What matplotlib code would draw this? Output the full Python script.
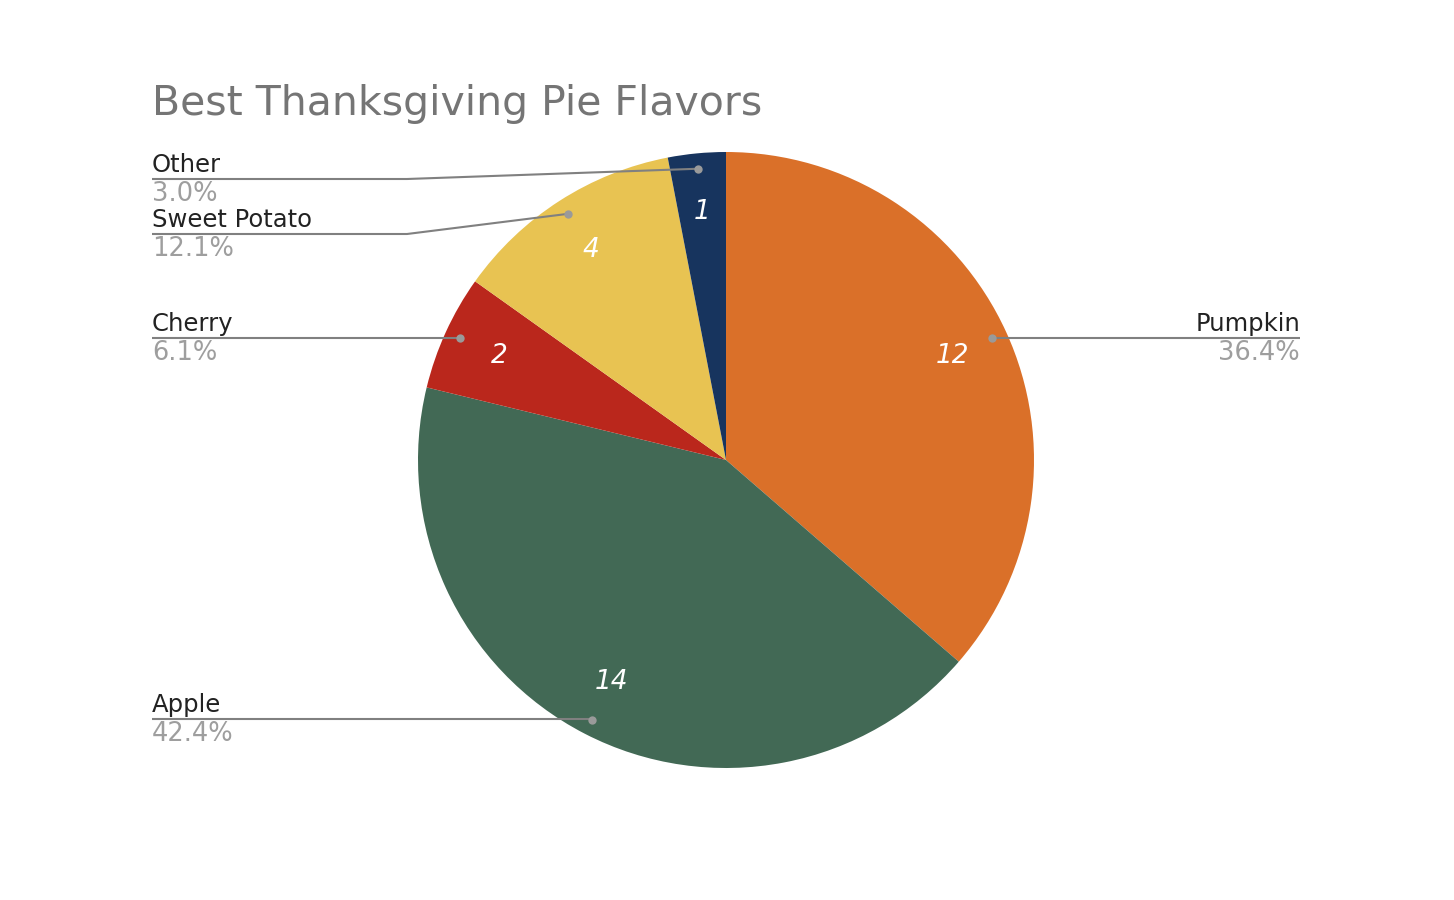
import numpy as np
import matplotlib
matplotlib.use("Agg")
import matplotlib.pyplot as plt

title = "Best Thanksgiving Pie Flavors"
categories = ["Pumpkin", "Apple", "Cherry", "Sweet Potato", "Other"]
values = [12, 14, 2, 4, 1]
colors = ["#DA7029", "#426955", "#BA271C", "#E8C352", "#17345E"]

W, H = 1454, 900
fig = plt.figure(figsize=(W / 100, H / 100), dpi=100)
ax = fig.add_axes([0, 0, 1, 1])

cx, cy, R = 726, H - 460, 308
total = sum(values)

wedges, texts, autotexts = ax.pie(
    values, colors=colors, startangle=90, counterclock=False,
    center=(cx, cy), radius=R, pctdistance=0.81,
    autopct=lambda p: f"{round(p * total / 100):d}",
    wedgeprops=dict(linewidth=0),
    textprops=dict(color="white", fontsize=19, fontstyle="italic"),
)
ax.set_xlim(0, W)
ax.set_ylim(0, H)
ax.set_aspect("equal")
ax.axis("off")

# leader lines: (side, line_y in px from top, elbow_x)
layout = {
    "Pumpkin": ("right", 338, None),
    "Apple": ("left", 719, None),
    "Cherry": ("left", 338, None),
    "Sweet Potato": ("left", 234, 407),
    "Other": ("left", 179, 407),
}
left_x, right_x = 152, 1300
line_col = "#808080"

for w, name, v in zip(wedges, categories, values):
    ang = np.deg2rad((w.theta1 + w.theta2) / 2)
    dx = cx + 0.95 * R * np.cos(ang)
    dy = cy + 0.95 * R * np.sin(ang)
    side, ly, ex = layout[name]
    ly = H - ly
    end_x = left_x if side == "left" else right_x
    xs = [dx]
    ys = [dy]
    if ex is not None:
        xs.append(ex)
        ys.append(ly)
    else:
        xs.append(dx)
        ys.append(ly)
    xs.append(end_x)
    ys.append(ly)
    ax.plot(xs, ys, color=line_col, lw=1.5, solid_capstyle="butt", zorder=3)
    ax.plot([dx], [dy], "o", color="#9a9a9a", ms=6, mec="none", zorder=4)
    ha = "left" if side == "left" else "right"
    ax.text(end_x, ly + 2, name, ha=ha, va="bottom", fontsize=17.5, color="#222222")
    ax.text(end_x, ly - 2, f"{100 * v / total:.1f}%", ha=ha, va="top",
            fontsize=18.5, color="#9e9e9e")

ax.text(152, H - 104, title, ha="left", va="center", fontsize=29.5, color="#757575")

fig.savefig("out.png", dpi=100, facecolor="white")
